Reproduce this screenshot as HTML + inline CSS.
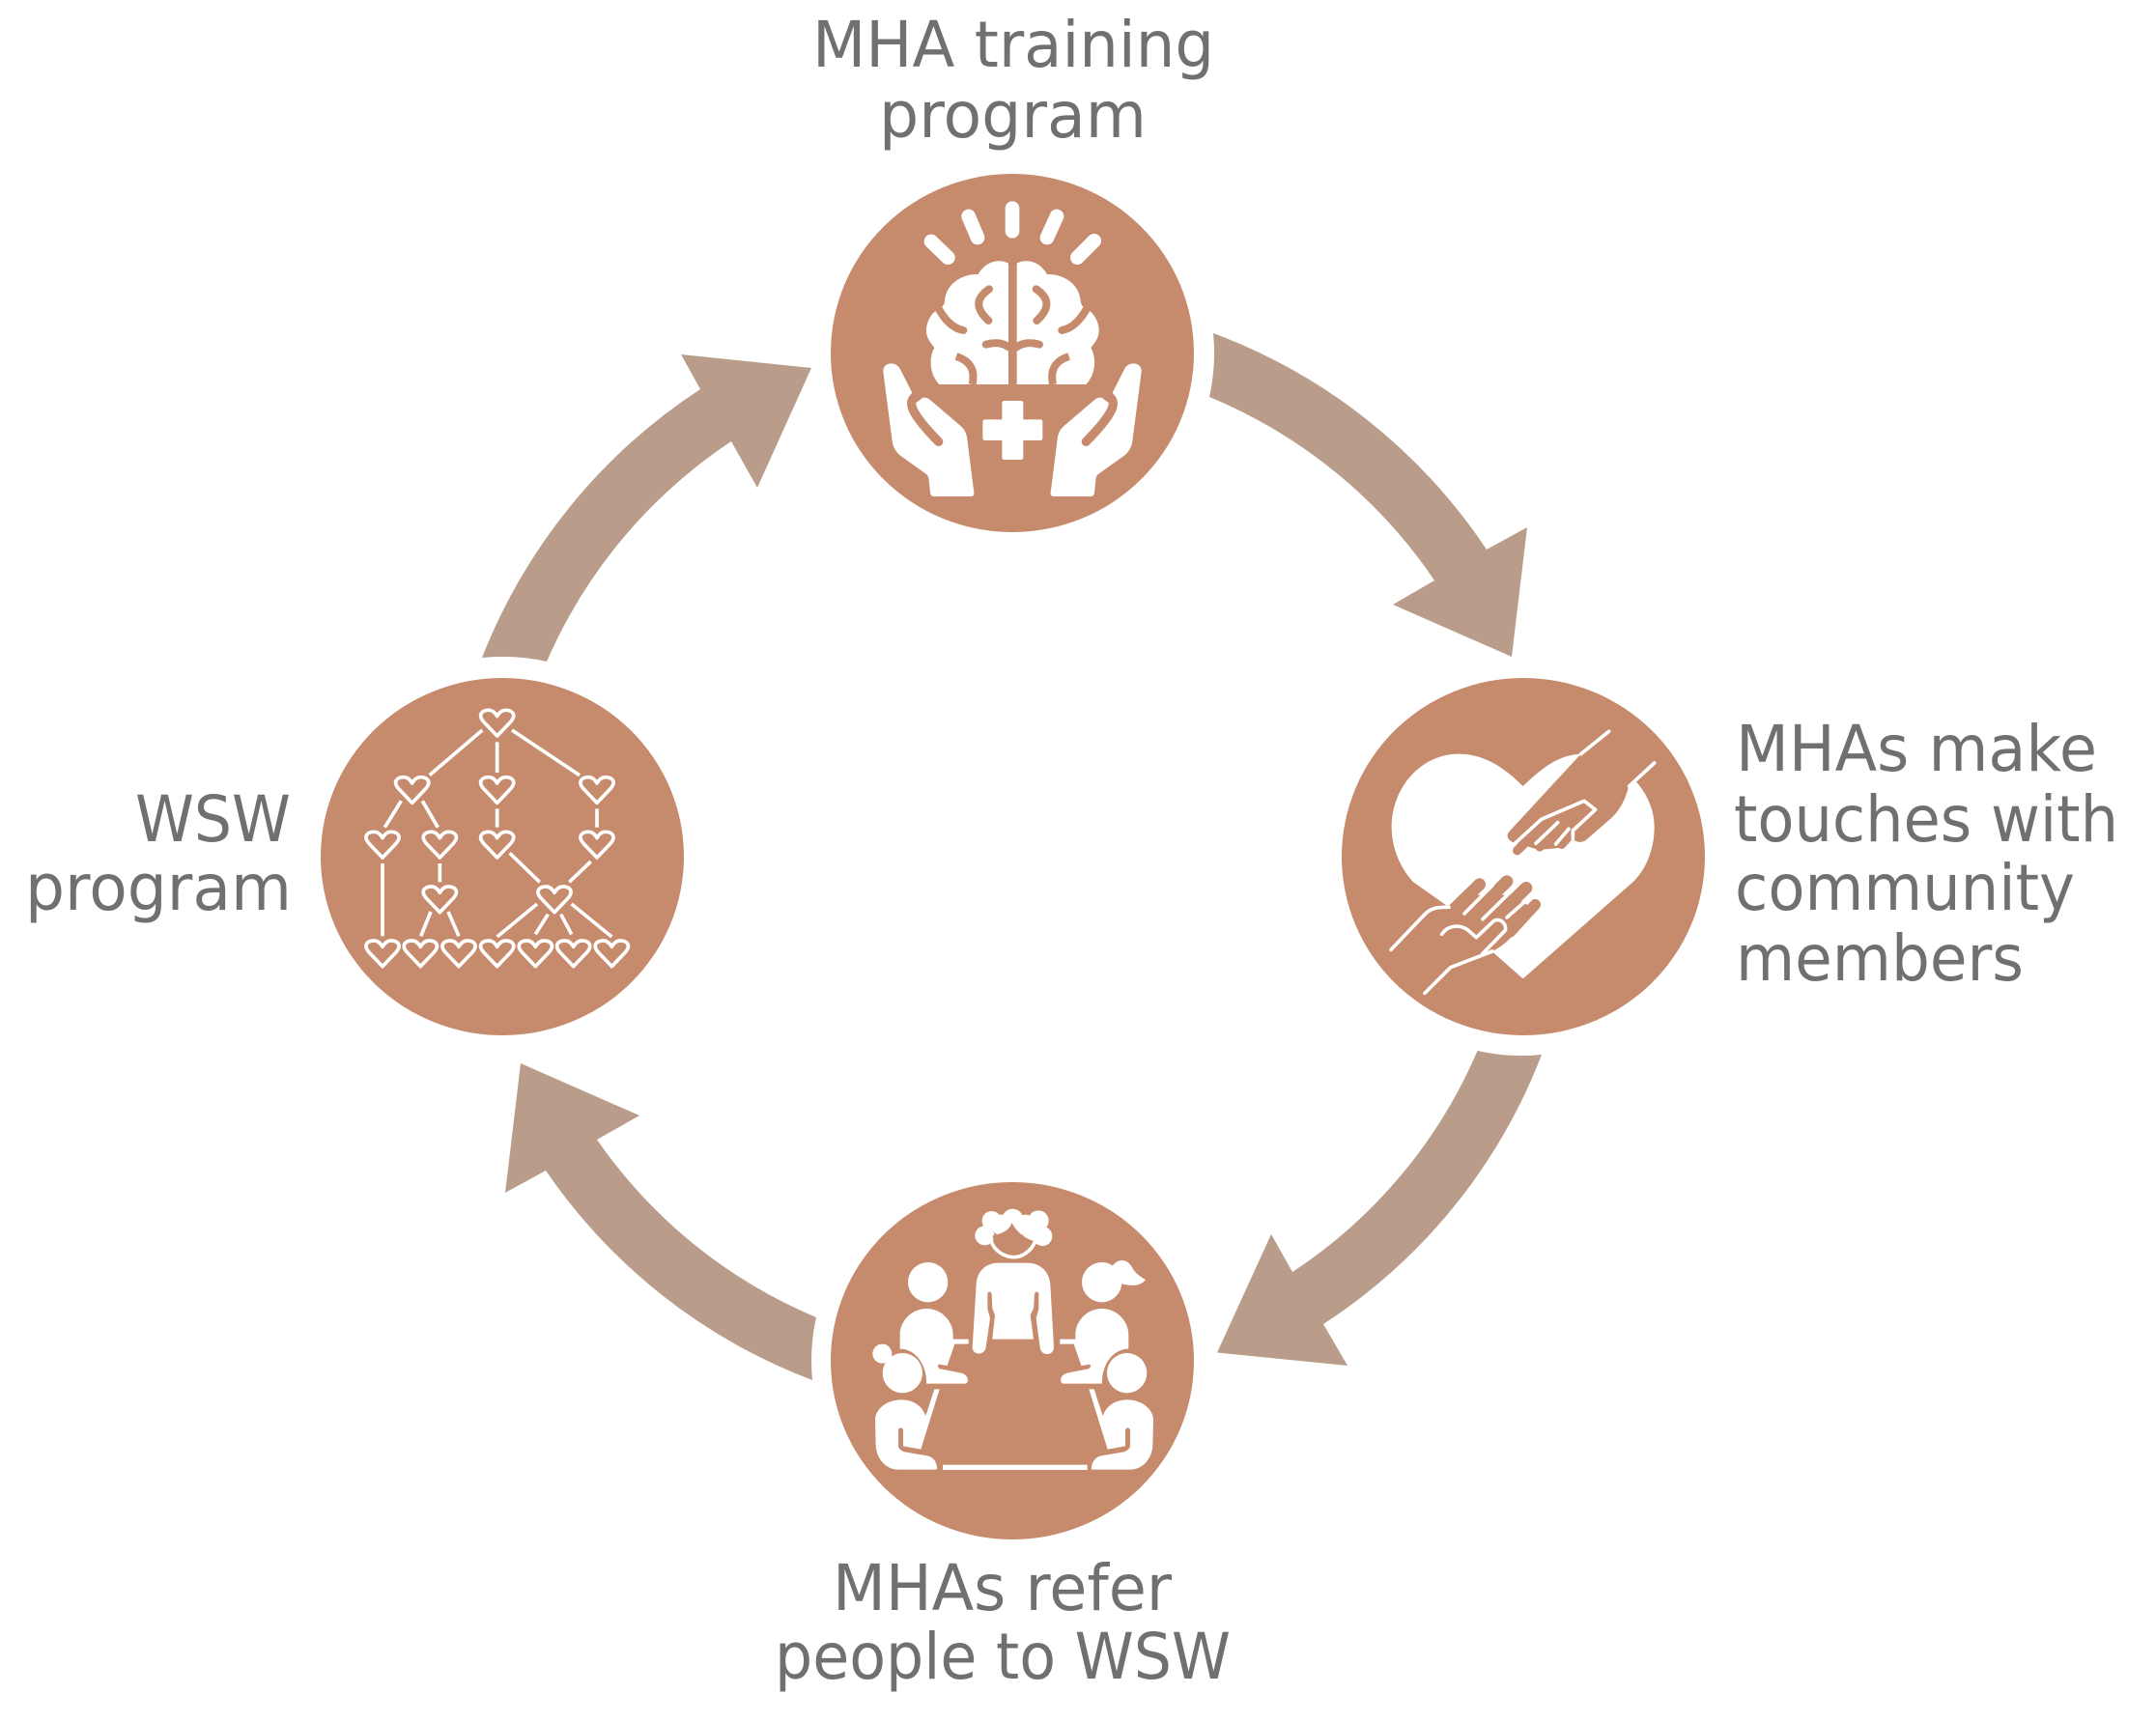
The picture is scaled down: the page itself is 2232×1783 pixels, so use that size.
<!DOCTYPE html>
<html><head><meta charset="utf-8"><style>
html,body{margin:0;padding:0;background:#fff}
svg{display:block}
text{font-family:"DejaVu Sans","Liberation Sans",sans-serif;font-size:66px;fill:#707070}
</style></head><body>
<svg width="2232" height="1783" viewBox="0 0 2232 1783" xmlns="http://www.w3.org/2000/svg">
<rect width="2232" height="1783" fill="#fff"/>
<defs>
<path id="h" d="M0,41 L-42,-3 C-62,-26 -46,-39 -26,-39 C-13,-39 -5,-29 0,-20 C5,-29 13,-39 26,-39 C46,-39 62,-26 42,-3 Z" fill="none" stroke="#fff" stroke-width="11" stroke-linejoin="round"/>
<g id="hand">
<path fill="#fff" d="M73,555 C70,525 112,520 125,545 L162,618 L195,636 C205,632 215,638 222,645 L310,720 C325,732 332,745 334,765 L355,930 C356,938 352,942 345,942 L230,942 C222,942 220,935 219,930 L214,885 C213,878 208,874 203,870 L130,818 C112,805 104,790 101,770 Z"/>
<path fill="none" stroke="#C68B6D" stroke-width="28" stroke-linecap="round" d="M172,632 C150,650 155,680 245,772"/>
<path fill="#C68B6D" d="M162,618 L195,636 L177,650 L158,640 Z"/>
</g>
<g id="brain">
<path fill="#fff" d="M462,218 C440,205 395,205 368,252 C320,250 268,280 264,335 C263,345 258,355 243,362 C215,375 200,420 210,445 C215,460 225,470 232,480 C215,510 215,560 247,594 L462,594 Z"/>
<g fill="none" stroke="#C68B6D" stroke-width="24" stroke-linecap="round">
<path d="M402,298 C370,320 350,350 400,396"/>
<path d="M392,470 C420,462 445,465 462,478"/>
<path d="M300,507 C340,520 360,545 350,594" stroke-linecap="butt"/>
<path d="M238,345 C262,395 290,420 322,426"/>
</g>
</g>
</defs>

<!-- arrows -->
<g fill="#B99D8A">
<path d="M1256,345 A584,584 0 0 1 1539,569 L1581,546 L1565,680 L1442,626 L1485,601 A521,521 0 0 0 1252,411 A209,209 0 0 0 1256,345 Z"/>
<path d="M1596,1092 A580,580 0 0 1 1370,1371 L1395,1414 L1260,1400.5 L1316,1278 L1338,1317 A517,517 0 0 0 1529.5,1088 A205,205 0 0 0 1596,1092 Z"/>
<path d="M841,1429 A584,584 0 0 1 565,1212 L523,1235 L539,1101 L662,1155 L618,1180 A521,521 0 0 0 845,1364 A205,205 0 0 0 841,1429 Z"/>
<path d="M499,681 A587,587 0 0 1 725,403 L705,367 L840,381 L784,505 L757,457 A524,524 0 0 0 566,685 A206,206 0 0 0 499,681 Z"/>
</g>

<!-- circles -->
<g fill="#C68B6D">
<ellipse cx="1048" cy="365.5" rx="188" ry="185.5"/>
<ellipse cx="1577" cy="887" rx="188" ry="185"/>
<ellipse cx="1048" cy="1409" rx="188" ry="185"/>
<ellipse cx="520" cy="887" rx="188" ry="185"/>
</g>

<!-- icon 1: brain & hands -->
<g transform="translate(890,200) scale(0.33333)">
<g stroke="#fff" stroke-width="44" stroke-linecap="round" fill="none">
<path d="M474,47 L474,118"/><path d="M338,72 L366,138"/><path d="M222,150 L274,200"/><path d="M612,72 L582,138"/><path d="M728,148 L676,200"/>
</g>
<use href="#brain"/>
<g transform="translate(950,0) scale(-1,1)"><use href="#brain"/></g>
<use href="#hand"/>
<g transform="translate(948,0) scale(-1,1)"><use href="#hand"/></g>
<rect x="382" y="703" width="186" height="65" rx="7" fill="#fff"/>
<rect x="442" y="645" width="66" height="183" rx="7" fill="#fff"/>
</g>

<!-- icon 2: heart & hands -->
<g transform="translate(1420,740) scale(0.33333)">
<path fill="#fff" d="M470,222 C425,178 360,122 270,122 C155,122 62,225 62,350 C62,420 95,490 140,530 L470,820 L800,530 C850,490 878,420 878,350 C878,300 860,255 825,212 L650,122 C580,125 530,165 470,222 Z"/>
<path fill="#C68B6D" d="M650,122 L430,360 C415,375 422,388 438,396 L520,420 L600,412 L625,385 C632,395 650,400 665,390 L740,325 C770,300 790,260 798,222 L830,190 L780,90 Z"/>
<g fill="none" stroke="#C68B6D" stroke-linecap="round">
<path d="M452,422 L560,320" stroke-width="28"/>
<path d="M522,412 L590,345" stroke-width="26"/>
<path d="M590,405 L620,370" stroke-width="24"/>
</g>
<path fill="#C68B6D" d="M130,520 L240,598 L330,560 L430,560 L500,600 L430,695 C410,715 395,725 375,735 L400,770 L300,800 L100,650 Z"/>
<g fill="none" stroke="#C68B6D" stroke-linecap="round">
<path d="M250,610 L335,527" stroke-width="38"/>
<path d="M320,615 L420,518" stroke-width="38"/>
<path d="M390,625 L480,538" stroke-width="38"/>
<path d="M430,675 L508,590" stroke-width="34"/>
</g>
<g fill="none" stroke="#fff" stroke-width="11" stroke-linecap="round" stroke-linejoin="round">
<path d="M445,400 L527,325 L660,268 L695,295 L625,360 L625,385"/>
<path d="M510,400 L578,335"/>
<path d="M572,402 L612,355"/>
<path d="M650,122 L737,52"/>
<path d="M800,222 L878,150"/>
<path d="M288,618 L375,530"/>
<path d="M345,635 L452,530"/>
<path d="M420,630 L497,562"/>
<path d="M345,742 L415,670 C420,650 400,630 380,640 L325,692 L298,668 C270,650 235,655 218,682"/>
<path d="M375,735 L245,785 L165,865"/>
<path d="M60,730 L170,615 C190,600 205,597 240,598"/>
</g>
</g>

<!-- icon 3: meeting -->
<g transform="translate(890,1240) scale(0.33333)" fill="#fff">
<circle cx="410" cy="72" r="30"/><circle cx="475" cy="68" r="33"/><circle cx="555" cy="72" r="32"/><circle cx="388" cy="118" r="30"/><circle cx="568" cy="120" r="30"/><circle cx="440" cy="85" r="32"/><circle cx="515" cy="85" r="32"/><circle cx="535" cy="105" r="30"/>
<path fill="#C68B6D" d="M413,118 C445,112 465,100 473,78 C485,105 510,125 540,135 C530,165 500,180 478,180 C445,180 418,155 413,118Z"/>
<path fill="none" stroke="#fff" stroke-width="11" d="M408,135 C420,170 455,185 478,185 C505,185 535,165 545,135"/>
<path d="M432,203 L520,203 C565,203 590,235 592,270 L603,465 C603,492 563,495 560,465 L548,375 L556,345 L556,300 C555,290 545,290 543,300 L540,345 L530,365 L540,440 L412,440 L420,365 L412,345 L410,300 C408,290 398,290 397,300 L397,345 L405,375 L392,465 C388,492 350,490 350,465 L362,270 C364,235 385,203 432,203Z"/>
<path d="M125,470 L125,425 C125,385 160,345 208,345 C255,345 290,385 290,425 L290,440 L338,440 L338,455 L295,455 L272,522 L245,518 C240,525 245,530 250,532 L315,545 C335,550 342,570 330,578 L207,578 C210,530 180,470 125,470Z"/>
<path d="M48,690 C48,660 80,628 130,628 C170,628 195,650 205,678 L232,595 L248,595 L190,782 L135,772 L135,725 C135,712 120,712 120,725 L120,770 C120,780 130,788 140,790 L210,802 C230,806 242,825 240,845 L120,845 C80,845 52,810 50,770Z"/>
<g transform="translate(960,0) scale(-1,1)">
<path d="M125,470 L125,425 C125,385 160,345 208,345 C255,345 290,385 290,425 L290,440 L338,440 L338,455 L295,455 L272,522 L245,518 C240,525 245,530 250,532 L315,545 C335,550 342,570 330,578 L207,578 C210,530 180,470 125,470Z"/>
<path d="M48,690 C48,660 80,628 130,628 C170,628 195,650 205,678 L232,595 L248,595 L190,782 L135,772 L135,725 C135,712 120,712 120,725 L120,770 C120,780 130,788 140,790 L210,802 C230,806 242,825 240,845 L120,845 C80,845 52,810 50,770Z"/>
</g>
<circle cx="212" cy="263" r="62"/>
<circle cx="752" cy="263" r="62"/>
<path d="M780,220 C800,185 830,190 845,215 C855,235 870,245 888,255 C870,278 840,275 806,266 Z"/>
<circle cx="70" cy="485" r="30"/>
<circle cx="133" cy="545" r="62"/>
<circle cx="830" cy="545" r="62"/>
<rect x="258" y="830" width="449" height="16"/>
</g>

<!-- icon 4: heart tree -->
<g transform="translate(370,720) scale(0.33333)">
<use href="#h" x="434" y="85"/>
<use href="#h" x="170" y="293"/><use href="#h" x="434" y="293"/><use href="#h" x="744" y="293"/>
<use href="#h" x="78" y="463"/><use href="#h" x="256" y="463"/><use href="#h" x="434" y="463"/><use href="#h" x="744" y="463"/>
<use href="#h" x="256" y="633"/><use href="#h" x="612" y="633"/>
<use href="#h" x="78" y="801"/><use href="#h" x="196" y="801"/><use href="#h" x="315" y="801"/><use href="#h" x="434" y="801"/><use href="#h" x="553" y="801"/><use href="#h" x="671" y="801"/><use href="#h" x="790" y="801"/>
<path fill="none" stroke="#fff" stroke-width="11" d="M388,108 L224,248 M434,145 L434,240 M480,108 L690,248 M136,328 L85,410 M202,328 L250,410 M434,352 L434,410 M744,352 L744,410 M78,522 L78,748 M256,522 L256,580 M473,490 L566,580 M725,516 L658,580 M228,672 L197,748 M282,672 L315,748 M558,648 L434,750 M592,680 L553,742 M632,680 L665,742 M665,648 L790,750"/>
</g>

<!-- labels -->
<text x="841" y="69" textLength="416" lengthAdjust="spacingAndGlyphs">MHA training</text>
<text x="910" y="142" textLength="277" lengthAdjust="spacingAndGlyphs">program</text>
<text x="1797" y="798" textLength="374" lengthAdjust="spacingAndGlyphs">MHAs make</text>
<text x="1795" y="871" textLength="398" lengthAdjust="spacingAndGlyphs">touches with</text>
<text x="1796" y="942" textLength="352" lengthAdjust="spacingAndGlyphs">community</text>
<text x="1797" y="1015" textLength="298" lengthAdjust="spacingAndGlyphs">members</text>
<text x="862" y="1667" textLength="351" lengthAdjust="spacingAndGlyphs">MHAs refer</text>
<text x="802" y="1738" textLength="472" lengthAdjust="spacingAndGlyphs">people to WSW</text>
<text x="140" y="871" textLength="161" lengthAdjust="spacingAndGlyphs">WSW</text>
<text x="26" y="942" textLength="276" lengthAdjust="spacingAndGlyphs">program</text>
</svg>
</body></html>
